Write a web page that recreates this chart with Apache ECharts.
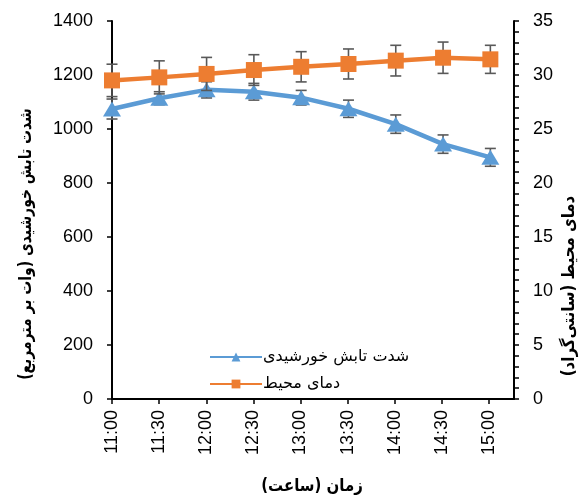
<!DOCTYPE html>
<html>
<head>
<meta charset="utf-8">
<script src="https://cdn.jsdelivr.net/npm/echarts@6/dist/echarts.min.js"></script>
<style>html,body{margin:0;padding:0;background:#fff}#c{width:587px;height:499px}</style>
</head>
<body>
<div id="c"></div>
<script>
var categories = ['11:00','11:30','12:00','12:30','13:00','13:30','14:00','14:30','15:00'];
var radiation = [1074, 1114, 1145, 1138, 1116, 1075, 1018, 944, 895];
var radiationErr = [37, 24, 30, 31, 27, 32, 34, 34, 33];
var temperature = [29.5, 29.78, 30.1, 30.46, 30.76, 31.02, 31.33, 31.6, 31.45];
var temperatureErr = [1.5, 1.53, 1.53, 1.42, 1.4, 1.39, 1.42, 1.45, 1.3];
var radiationTicks = [0, 1400, 200];
var temperatureTicks = [0, 35, 5];
var seriesNames = ['شدت تابش خورشیدی', 'دمای محیط'];
var xTitle = 'زمان (ساعت)';
var yLeftTitle = 'شدت تابش خورشیدی (وات بر مترمربع)';
var yRightTitle = 'دمای محیط (سانتی‌گراد)';

var BLUE = '#5B9BD5', ORANGE = '#ED7D31', ERR = '#595959';
var NUM_FONT = 'Liberation Sans';
var FA_FONT = 'DejaVu Sans';

function pairs(vals){ return vals.map(function(v,i){ return [i, v]; }); }
function errData(vals, errs){ return vals.map(function(v,i){ return [i, v - errs[i], v + errs[i]]; }); }
function errRender(params, api){
  var lo = api.coord([api.value(0), api.value(1)]);
  var hi = api.coord([api.value(0), api.value(2)]);
  var h = 5.5;
  var st = {stroke: ERR, lineWidth: 1.6, fill: null};
  return {type:'group', children:[
    {type:'line', shape:{x1:hi[0], y1:hi[1], x2:lo[0], y2:lo[1]}, style:st},
    {type:'line', shape:{x1:hi[0]-h, y1:hi[1], x2:hi[0]+h, y2:hi[1]}, style:st},
    {type:'line', shape:{x1:lo[0]-h, y1:lo[1], x2:lo[0]+h, y2:lo[1]}, style:st}
  ]};
}
function plain(v){ return String(v); }

var chart = echarts.init(document.getElementById('c'), null, {renderer:'canvas'});
chart.setOption({
  animation: false,
  backgroundColor: '#fff',
  grid: [
    {left:112, right:73, top:21, bottom:100},
    {left:112, right:98, top:21, bottom:100}
  ],
  legend: {
    orient: 'vertical', left: 204, top: 344, itemGap: 11,
    itemWidth: 52, itemHeight: 11,
    textStyle: {fontFamily: FA_FONT, fontSize: 16, color: '#000', padding:[0,0,0,-4]},
    data: seriesNames
  },
  xAxis: [
    {type:'value', gridIndex:0, min:0, max:8.5, position:'bottom',
     axisLine:{show:true, lineStyle:{color:'#000', width:2}},
     axisTick:{show:false}, axisLabel:{show:false}, splitLine:{show:false}},
    {type:'category', gridIndex:1, data: categories, boundaryGap:false, position:'bottom',
     axisLine:{show:false},
     axisTick:{show:true, length:5, lineStyle:{color:'#000', width:1.5}},
     axisLabel:{rotate:90, margin:11, fontSize:18, fontFamily:NUM_FONT, color:'#000'},
     splitLine:{show:false}}
  ],
  yAxis: [
    {type:'value', gridIndex:0, position:'left', min:radiationTicks[0], max:radiationTicks[1], interval:radiationTicks[2],
     axisLine:{show:true, lineStyle:{color:'#000', width:2}},
     axisTick:{show:true, length:5, lineStyle:{color:'#000', width:1.5}},
     axisLabel:{margin:19, fontSize:18, fontFamily:NUM_FONT, color:'#000', formatter: plain},
     splitLine:{show:false}},
    {type:'value', gridIndex:0, position:'right', min:temperatureTicks[0], max:temperatureTicks[1], interval:temperatureTicks[2],
     axisLine:{show:true, lineStyle:{color:'#000', width:2}},
     axisTick:{show:true, length:5, lineStyle:{color:'#000', width:1.5}},
     minorTick:{show:true, splitNumber:5, length:5, lineStyle:{color:'#000', width:1.5}},
     axisLabel:{margin:19, fontSize:18, fontFamily:NUM_FONT, color:'#000', formatter: plain},
     splitLine:{show:false}},
    {type:'value', gridIndex:1, show:false}
  ],
  series: [
    {type:'custom', name:'errR', xAxisIndex:0, yAxisIndex:0, z:1, renderItem: errRender,
     data: errData(radiation, radiationErr), silent:true},
    {type:'line', name: seriesNames[0], xAxisIndex:0, yAxisIndex:0, z:2,
     data: pairs(radiation), symbol:'triangle', symbolSize:[18,15],
     lineStyle:{color:BLUE, width:4.5}, itemStyle:{color:BLUE}},
    {type:'custom', name:'errT', xAxisIndex:0, yAxisIndex:1, z:3, renderItem: errRender,
     data: errData(temperature, temperatureErr), silent:true},
    {type:'line', name: seriesNames[1], xAxisIndex:0, yAxisIndex:1, z:4,
     data: pairs(temperature), symbol:'rect', symbolSize:16,
     lineStyle:{color:ORANGE, width:4.5}, itemStyle:{color:ORANGE}}
  ],
  graphic: [
    {type:'text', x:27, y:244, rotation:Math.PI/2, scaleX:0.82,
     style:{text:yLeftTitle, font:'bold 17px "DejaVu Sans"', fill:'#000', align:'center', verticalAlign:'middle'}},
    {type:'text', x:570, y:286, rotation:Math.PI/2, scaleX:0.88,
     style:{text:yRightTitle, font:'bold 17px "DejaVu Sans"', fill:'#000', align:'center', verticalAlign:'middle'}},
    {type:'text', x:312, y:487, scaleX:0.88,
     style:{text:xTitle, font:'bold 17px "DejaVu Sans"', fill:'#000', align:'center', verticalAlign:'middle'}}
  ]
});
</script>
</body>
</html>
